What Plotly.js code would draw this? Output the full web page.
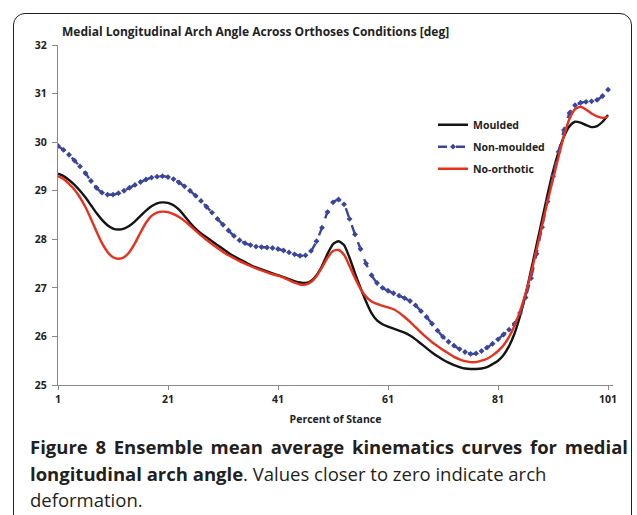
<!DOCTYPE html>
<html>
<head>
<meta charset="utf-8">
<script src="https://cdn.plot.ly/plotly-3.0.1.min.js"></script>
<style>
  html, body { margin: 0; padding: 0; background: #ffffff; overflow: hidden; }
  #wrap { position: relative; width: 637px; height: 515px; }
  #chart { position: absolute; left: 0; top: 0; width: 637px; height: 515px; }
  #frame { position: absolute; left: 13px; top: 13px; width: 619px; height: 600px;
           border: 1.5px solid #1f1f1f; border-radius: 12px; pointer-events: none; box-sizing: border-box; }
  #caption { position: absolute; left: 30px; top: 434px; width: 598px;
             font-family: "Open Sans", sans-serif; font-size: 18.5px; line-height: 26.5px; color: #231f20; }
  #caption .l1 { text-align: justify; text-align-last: justify; white-space: nowrap; }
  #caption b { font-weight: 700; }
</style>
</head>
<body>
<div id="wrap">
  <div id="chart"></div>
  <div id="frame"></div>
  <div id="caption">
    <div class="l1"><b>Figure 8 Ensemble mean average kinematics curves for medial</b></div>
    <div><b>longitudinal arch angle</b>. Values closer to zero indicate arch</div>
    <div>deformation.</div>
  </div>
</div>
<script>
// Percent of stance (1..101)
const stance = Array.from({length: 101}, (_, i) => i + 1);

const moulded = [
  29.35, 29.30, 29.22, 29.12, 29.00, 28.86, 28.70, 28.54, 28.40, 28.29,
  28.22, 28.20, 28.22, 28.28, 28.37, 28.48, 28.59, 28.68, 28.74, 28.76,
  28.75, 28.70, 28.61, 28.48, 28.34, 28.22, 28.12, 28.04, 27.96, 27.88,
  27.80, 27.72, 27.65, 27.59, 27.53, 27.47, 27.42, 27.38, 27.34, 27.30,
  27.26, 27.22, 27.18, 27.14, 27.11, 27.10, 27.14, 27.26, 27.45, 27.70,
  27.90, 27.96, 27.88, 27.62, 27.30, 27.00, 26.72, 26.48, 26.33, 26.25,
  26.20, 26.16, 26.12, 26.08, 26.02, 25.94, 25.85, 25.76, 25.67, 25.59,
  25.52, 25.46, 25.41, 25.37, 25.34, 25.33, 25.33, 25.34, 25.37, 25.43,
  25.50, 25.62, 25.80, 26.06, 26.42, 26.86, 27.36, 27.88, 28.40, 28.92,
  29.40, 29.80, 30.12, 30.33, 30.42, 30.40, 30.35, 30.31, 30.33, 30.42,
  30.56
];

const nonMoulded = [
  29.92, 29.84, 29.74, 29.62, 29.50, 29.36, 29.20, 29.06, 28.96, 28.92,
  28.92, 28.95, 29.00, 29.06, 29.12, 29.18, 29.23, 29.27, 29.29, 29.30,
  29.28, 29.24, 29.17, 29.09, 29.00, 28.90, 28.79, 28.67, 28.55, 28.42,
  28.30, 28.18, 28.07, 27.98, 27.92, 27.88, 27.85, 27.84, 27.83, 27.82,
  27.80, 27.77, 27.73, 27.69, 27.66, 27.67, 27.76, 27.96, 28.24, 28.56,
  28.76, 28.82, 28.72, 28.42, 28.10, 27.80, 27.50, 27.26, 27.10, 27.00,
  26.94, 26.89, 26.84, 26.79, 26.73, 26.64, 26.52, 26.40, 26.26, 26.12,
  25.99, 25.89, 25.81, 25.74, 25.68, 25.64, 25.65, 25.70, 25.77, 25.85,
  25.94, 26.04, 26.14, 26.26, 26.48, 26.80, 27.20, 27.70, 28.25, 28.78,
  29.30, 29.80, 30.25, 30.60, 30.76, 30.81, 30.83, 30.84, 30.87, 30.95,
  31.08
];

const noOrthotic = [
  29.30, 29.24, 29.14, 29.02, 28.86, 28.66, 28.42, 28.16, 27.92, 27.74,
  27.63, 27.60, 27.63, 27.74, 27.92, 28.14, 28.34, 28.48, 28.55, 28.57,
  28.56, 28.52, 28.46, 28.38, 28.28, 28.18, 28.08, 27.99, 27.90, 27.82,
  27.74, 27.67, 27.61, 27.55, 27.50, 27.45, 27.40, 27.36, 27.32, 27.28,
  27.25, 27.21, 27.16, 27.11, 27.07, 27.07, 27.12, 27.24, 27.42, 27.62,
  27.76, 27.78, 27.68, 27.45, 27.20, 26.98, 26.82, 26.72, 26.67, 26.63,
  26.60, 26.56, 26.49, 26.40, 26.30, 26.19, 26.08, 25.98, 25.88, 25.80,
  25.72, 25.65, 25.58, 25.53, 25.49, 25.47, 25.47, 25.50, 25.54, 25.61,
  25.70, 25.82, 25.99, 26.22, 26.52, 26.88, 27.30, 27.78, 28.28, 28.78,
  29.24, 29.70, 30.14, 30.48, 30.68, 30.73, 30.67, 30.59, 30.53, 30.50,
  30.52
];

const xTickVals = [1, 21, 41, 61, 81, 101];
const xTickText = ['1', '21', '41', '61', '81', '101'];
const yTickVals = [25, 26, 27, 28, 29, 30, 31, 32];

const axisGrey = '#8a8a8a';
const tickFont = {family: 'Open Sans, sans-serif', size: 10.5, color: '#222222', weight: 'bold'};

const traces = [
  {
    x: stance, y: moulded, name: 'Moulded', type: 'scatter', mode: 'lines',
    line: {color: '#141414', width: 2.4, shape: 'spline', smoothing: 0.6},
    legendgroup: 'a'
  },
  {
    x: stance, y: nonMoulded, name: 'Non-moulded', type: 'scatter', mode: 'lines+markers',
    line: {color: '#3a469c', width: 2.4, dash: 'dash', shape: 'spline', smoothing: 0.6},
    marker: {symbol: 'diamond', size: 4.5, color: '#3a469c'},
    legendgroup: 'b'
  },
  {
    x: stance, y: noOrthotic, name: 'No-orthotic', type: 'scatter', mode: 'lines',
    line: {color: '#e8301c', width: 2.4, shape: 'spline', smoothing: 0.6},
    legendgroup: 'c'
  }
];

const layout = {
  width: 637, height: 515,
  margin: {l: 58, r: 24, t: 45, b: 130},
  paper_bgcolor: 'rgba(0,0,0,0)',
  plot_bgcolor: 'rgba(0,0,0,0)',
  font: {family: 'Open Sans, sans-serif', color: '#222222'},
  title: {
    text: '<b>Medial Longitudinal Arch Angle Across Orthoses Conditions [deg]</b>',
    font: {family: 'Open Sans, sans-serif', size: 12, color: '#222222'},
    x: 62 / 637, xanchor: 'left', xref: 'container',
    y: 1 - 32 / 515, yanchor: 'middle', yref: 'container'
  },
  xaxis: {
    range: [1, 101.9],
    tickmode: 'array', tickvals: xTickVals, ticktext: xTickText,
    showline: true, linecolor: axisGrey, linewidth: 1.2,
    ticks: 'outside', ticklen: 4, tickcolor: axisGrey, tickwidth: 1,
    showgrid: false, zeroline: false,
    tickfont: tickFont,
    title: {text: '<b>Percent of Stance</b>', font: {family: 'Open Sans, sans-serif', size: 10.5, color: '#222222'}, standoff: 10}
  },
  yaxis: {
    range: [25, 32],
    tickmode: 'array', tickvals: yTickVals,
    showline: true, linecolor: axisGrey, linewidth: 1.2,
    ticks: 'outside', ticklen: 5, tickcolor: axisGrey, tickwidth: 1,
    showgrid: false, zeroline: false,
    tickfont: tickFont,
    ticklabelstandoff: 3
  },
  showlegend: true,
  legend: {
    x: (433 - 58) / 555, xanchor: 'left',
    y: (384 - 110) / 339, yanchor: 'top',
    bgcolor: 'rgba(0,0,0,0)', borderwidth: 0,
    font: {family: 'Open Sans, sans-serif', size: 10.5, color: '#222222', weight: 'bold'},
    tracegroupgap: 3,
    itemwidth: 30
  }
};

Plotly.newPlot('chart', traces, layout, {displayModeBar: false, staticPlot: true});
</script>
</body>
</html>
